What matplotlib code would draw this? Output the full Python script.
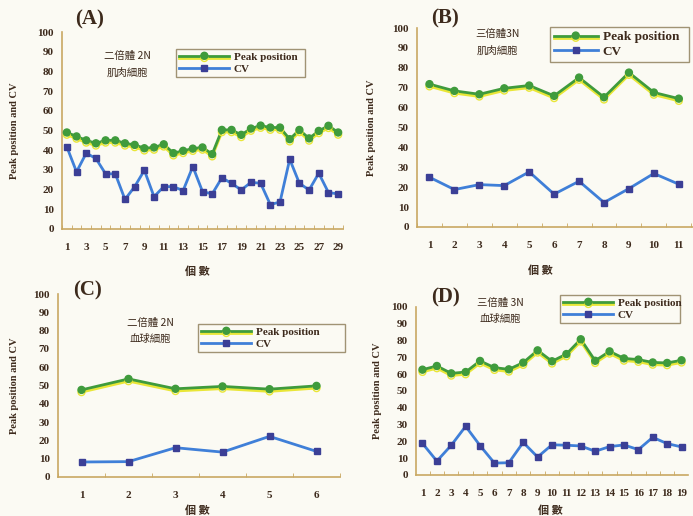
import matplotlib
matplotlib.use('Agg')
import matplotlib.pyplot as plt
import matplotlib.patheffects as pe
from matplotlib.ticker import MultipleLocator

plt.rcParams['font.family'] = ['Liberation Serif', 'Noto Sans CJK TC']
plt.rcParams['font.weight'] = 'bold'

# (A) diploid 2N muscle cells
peak_a = [49, 47, 45, 43.5, 45, 45, 43.5, 42.7, 41, 41.4, 43, 38.5, 39.7, 40.8, 41.4,
          38, 50.3, 50.3, 47.8, 51, 52.5, 51.5, 51.5, 45.6, 50.3, 46, 49.8, 52.4, 49]
cv_a = [41.7, 29, 38.5, 35.8, 28, 28, 15, 21.5, 29.8, 16.4, 21.5, 21.5, 19.5, 31.7, 19,
        17.8, 26, 23.2, 19.8, 23.7, 23.2, 12.4, 13.7, 35.4, 23.2, 19.8, 28.3, 18.5, 17.8]

# (B) triploid 3N muscle cells
peak_b = [71.8, 68.4, 66.7, 69.7, 71.1, 65.9, 75.1, 65.2, 77.6, 67.6, 64.5]
cv_b = [25, 18.8, 21.3, 20.8, 27.7, 16.5, 23, 12.3, 19.3, 26.9, 21.5]

# (C) diploid 2N blood cells
peak_c = [47.6, 53.6, 48.2, 49.5, 48, 49.8]
cv_c = [8.2, 8.4, 16, 13.6, 22.2, 14]

# (D) triploid 3N blood cells
peak_d = [62.7, 64.9, 60.5, 61.3, 67.9, 63.9, 62.9, 66.9, 74.2, 67.7, 72, 80.8, 68,
          73.6, 69.4, 68.7, 67, 66.7, 68.3]
cv_d = [18.8, 8.3, 17.7, 29, 17.5, 7.1, 7.3, 19.4, 10.7, 18, 17.7, 17.3, 14.1, 16.9,
        17.9, 15.1, 22.4, 18.7, 16.7]

W, H = 693, 516
bg = '#fbfaf3'
txt = '#3d2a1c'
axc = '#c9a862'
green = '#3f9b3c'
yellow = '#e9e637'
blue = '#3f7fd8'
navy = '#3b3f96'

fig = plt.figure(figsize=(W / 100, H / 100), dpi=100, facecolor=bg)


def px(l, t, r, b):
    return [l / W, 1 - b / H, (r - l) / W, (b - t) / H]


def panel(rect, peak, cv, xlim, label, label_xy, note, note_xy, leg_rect, leg_fs,
          xlab_xy, ylab_x, step=1, hl=4.5):
    ax = fig.add_axes(px(*rect))
    ax.set_facecolor(bg)
    x = list(range(1, len(peak) + 1))
    shadow = [pe.SimpleLineShadow(offset=(0, -1.6), shadow_color=yellow, alpha=1, rho=1),
              pe.Normal()]
    ax.plot(x, peak, color=green, lw=2.0, marker='o', ms=5, mfc=green, mec=green,
            path_effects=shadow, label='Peak position', zorder=3)
    ax.plot(x, cv, color=blue, lw=2.0, marker='s', ms=5, mfc=navy, mec=navy,
            label='CV', zorder=3)
    ax.set_xlim(*xlim)
    ax.set_ylim(0, 100)
    ax.yaxis.set_major_locator(MultipleLocator(10))
    ax.set_xticks(x[::step])
    ax.xaxis.set_minor_locator(MultipleLocator(1, offset=0.5))
    ax.tick_params(axis='x', which='major', length=0, pad=10, labelsize=8, colors=txt)
    ax.tick_params(axis='x', which='minor', direction='in', length=3, color=axc)
    ax.tick_params(axis='y', length=0, pad=6, labelsize=8, colors=txt)
    for s in ['top', 'right']:
        ax.spines[s].set_visible(False)
    for s in ['left', 'bottom']:
        ax.spines[s].set_color(axc)
        ax.spines[s].set_linewidth(1.2)
    fig.text(label_xy[0] / W, 1 - label_xy[1] / H, label, fontsize=15, color=txt,
             ha='center', va='center')
    fig.text(note_xy[0] / W, 1 - note_xy[1] / H, note, fontsize=7.5, color=txt,
             ha='center', va='center', linespacing=1.8,
             family=['Noto Sans CJK TC', 'Liberation Serif'], fontweight='normal')
    fig.text(xlab_xy[0] / W, 1 - xlab_xy[1] / H, '個 數', fontsize=8, color=txt,
             ha='center', va='center', family=['Noto Sans CJK TC'])
    cy = (rect[1] + rect[3]) / 2
    fig.text(ylab_x / W, 1 - cy / H, 'Peak position and CV', fontsize=7.5, color=txt,
             rotation=90, ha='center', va='center')
    leg = ax.legend(loc='lower left', bbox_to_anchor=px(*leg_rect), bbox_transform=fig.transFigure,
                    mode='expand', fontsize=leg_fs, frameon=True, fancybox=False,
                    handlelength=hl, borderaxespad=0, borderpad=0.3, labelspacing=0.2,
                    handletextpad=0.4, facecolor=bg, edgecolor='#8a7a55')
    leg.get_frame().set_linewidth(1.0)
    for t in leg.get_texts():
        t.set_color(txt)
    return ax


panel((62, 32, 343, 229), peak_a, cv_a, (0.5, 29.5), '(A)', (90, 19),
      '二倍體 2N\n肌肉細胞', (127, 64), (176, 42, 305, 77), 8, (197, 271), 15, step=2)
panel((417, 28, 700, 227), peak_b, cv_b, (0.5, 11.85), '(B)', (445, 18),
      '三倍體3N\n肌肉細胞', (497, 42), (550, 29, 689, 62), 9.5, (540, 270), 372, hl=3.3)
panel((58, 294, 340, 477), peak_c, cv_c, (0.5, 6.5), '(C)', (87, 290),
      '二倍體 2N\n血球細胞', (150, 331), (198, 313, 345, 352), 8, (197, 510), 15)
panel((416, 307, 688, 475), peak_d, cv_d, (0.55, 19.45), '(D)', (445, 297),
      '三倍體 3N\n血球細胞', (500, 311), (560, 293, 680, 323), 8, (550, 510), 377)

fig.savefig('out.png', dpi=100, facecolor=bg)
